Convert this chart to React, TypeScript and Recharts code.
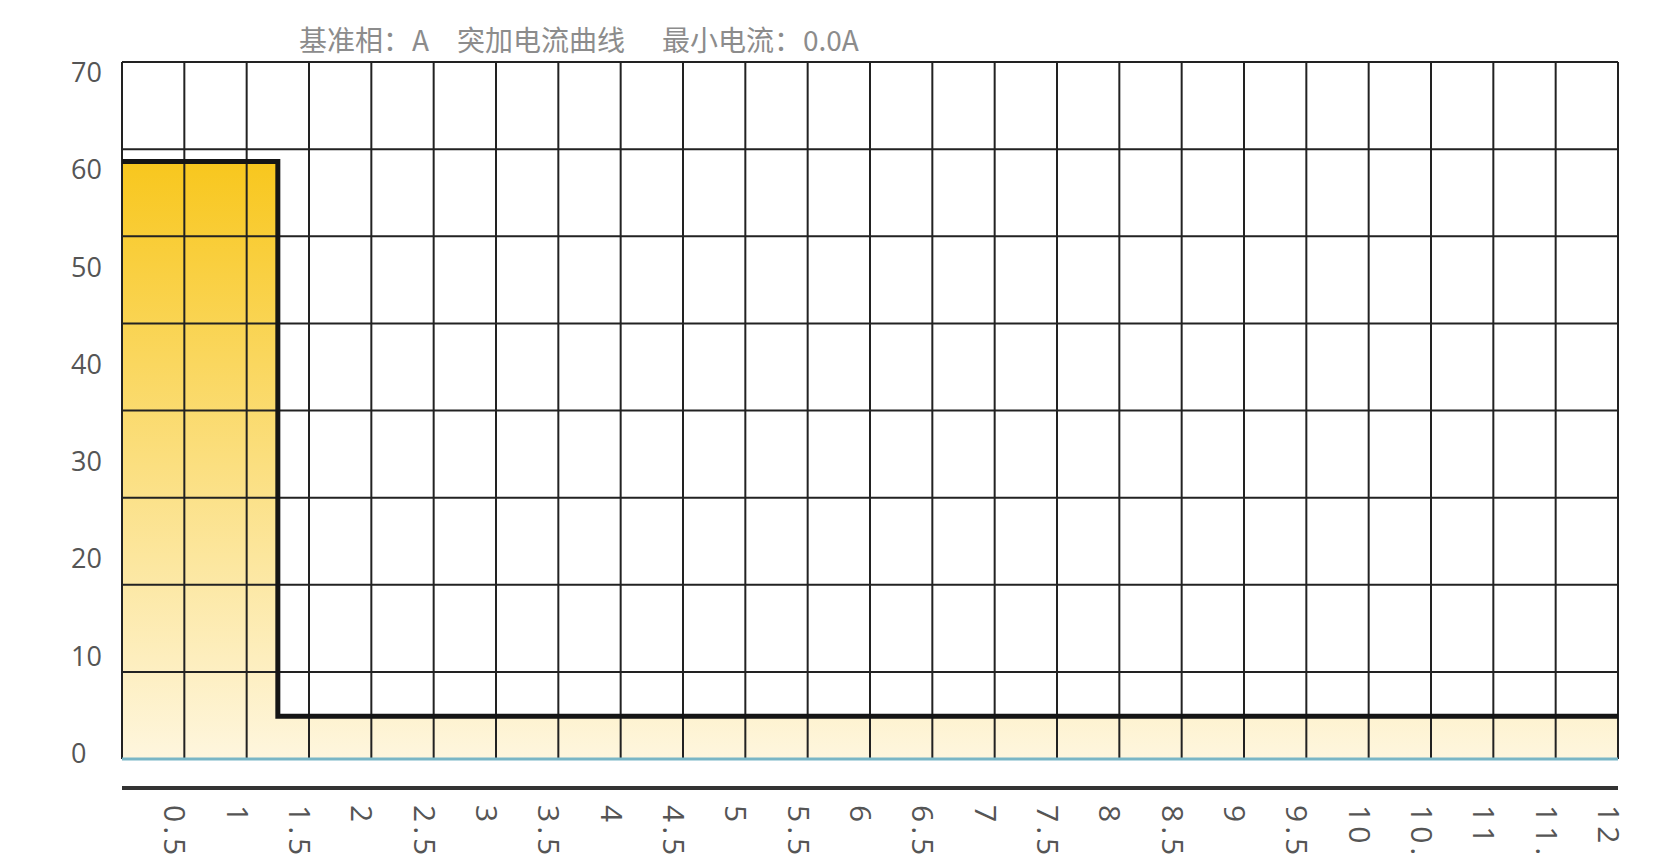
import { ComposedChart, Area, Line, XAxis, YAxis, CartesianGrid } from 'recharts';

// step curve: current (A) over time (s)
const stepTimes = [0, 1.25, 12];
const stepCurrents = [60, 4.3, 4.3];

const timeLabels = [0.5, 1, 1.5, 2, 2.5, 3, 3.5, 4, 4.5, 5, 5.5, 6, 6.5, 7, 7.5, 8, 8.5, 9, 9.5, 10, 10.5, 11, 11.5, 12];
const gridTimes = [0, 0.5, 1, 1.5, 2, 2.5, 3, 3.5, 4, 4.5, 5, 5.5, 6, 6.5, 7, 7.5, 8, 8.5, 9, 9.5, 10, 10.5, 11, 11.5, 12];
const currentLabels = [0, 10, 20, 30, 40, 50, 60, 70];
const gridCurrents = [0, 8.75, 17.5, 26.25, 35, 43.75, 52.5, 61.25, 70];

const data = stepTimes.map((t, i) => ({ t, a: stepCurrents[i] }));

const labelFont = "'Open Sans', 'DejaVu Sans', sans-serif";

const NoTick = () => null;

const CurrentTick = ({ y, payload }: any) => (
  <text x={71} y={y} dy={10} textAnchor="start" fontSize={27} fill="#555" fontFamily={labelFont}>
    {payload.value}
  </text>
);

const TimeTick = ({ x, y, payload }: any) => (
  <text
    transform={`translate(${x - 20},${y}) rotate(90)`}
    textAnchor="start"
    fontSize={30}
    letterSpacing={4}
    fill="#555"
    fontFamily={labelFont}
  >
    {payload.value}
  </text>
);

const titleStyle = {
  position: 'absolute' as const,
  top: 22,
  fontSize: 28,
  lineHeight: '34px',
  color: '#8c8c8c',
  fontFamily: "'Noto Sans CJK SC', sans-serif",
  whiteSpace: 'nowrap' as const,
};

export default function App() {
  return (
    <div style={{ position: 'absolute', left: 0, top: 0, width: 1654, height: 856, background: '#fff' }}>
      <span style={{ ...titleStyle, left: 299 }}>基准相：</span>
      <span style={{ ...titleStyle, left: 412 }}>A</span>
      <span style={{ ...titleStyle, left: 457 }}>突加电流曲线</span>
      <span style={{ ...titleStyle, left: 662 }}>最小电流：</span>
      <span style={{ ...titleStyle, left: 803 }}>0.0A</span>
      <ComposedChart width={1654} height={856} data={data} margin={{ top: 62, right: 36, left: 0, bottom: 0 }}>
        <defs>
          <linearGradient id="fillYellow" x1="0" y1="0" x2="0" y2="1">
            <stop offset="0%" stopColor="#F8C71E" />
            <stop offset="100%" stopColor="#FEF6DE" />
          </linearGradient>
        </defs>
        <XAxis
          xAxisId="data"
          dataKey="t"
          type="number"
          domain={[0, 12]}
          ticks={gridTimes}
          interval={0}
          tick={<NoTick />}
          tickLine={false}
          height={29}
          axisLine={{ stroke: '#79b6c6', strokeWidth: 3 }}
        />
        <XAxis
          xAxisId="labels"
          dataKey="t"
          type="number"
          domain={[0, 12]}
          ticks={timeLabels}
          interval={0}
          tickLine={false}
          tickSize={0}
          tickMargin={17}
          height={68}
          tick={<TimeTick />}
          axisLine={{ stroke: '#333', strokeWidth: 4 }}
        />
        <YAxis yAxisId="data" type="number" domain={[0, 70]} ticks={gridCurrents} hide />
        <YAxis
          yAxisId="labels"
          type="number"
          domain={[-0.61, 71.03]}
          allowDataOverflow
          ticks={currentLabels}
          interval={0}
          width={122}
          axisLine={false}
          tickLine={false}
          tick={<CurrentTick />}
        />
        <Area
          xAxisId="data"
          yAxisId="data"
          dataKey="a"
          type="stepAfter"
          stroke="none"
          fill="url(#fillYellow)"
          fillOpacity={1}
          isAnimationActive={false}
        />
        <CartesianGrid xAxisId="data" yAxisId="data" stroke="#222" strokeWidth={2} zIndex={150} />
        <Line
          xAxisId="data"
          yAxisId="data"
          dataKey="a"
          type="stepAfter"
          stroke="#151515"
          strokeWidth={5}
          dot={false}
          isAnimationActive={false}
        />
      </ComposedChart>
    </div>
  );
}
